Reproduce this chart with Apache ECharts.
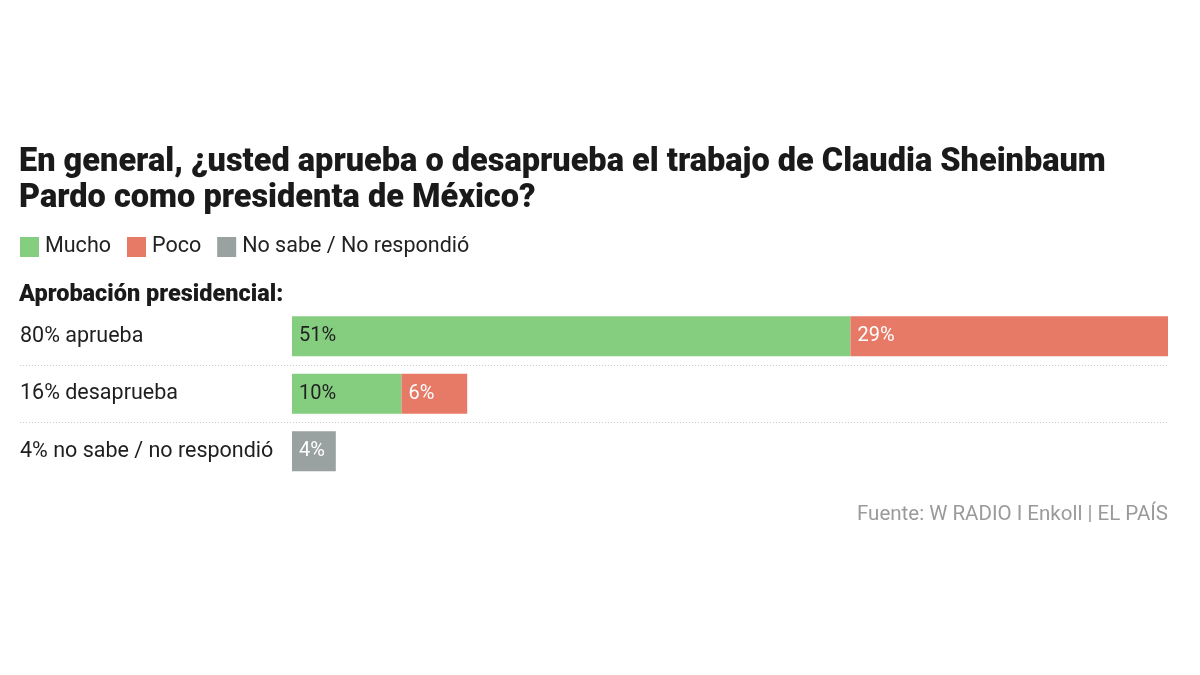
<!DOCTYPE html>
<html><head><meta charset="utf-8">
<script src="https://cdn.jsdelivr.net/npm/echarts@6/dist/echarts.min.js"></script>
<style>html,body{margin:0;padding:0;background:#fff}#c{width:1200px;height:675px}</style>
</head><body><div id="c"></div>
<script>
const titleText = 'En general, ¿usted aprueba o desaprueba el trabajo de Claudia Sheinbaum\nPardo como presidenta de México?';
const subTitle = 'Aprobación presidencial:';
const sourceText = 'Fuente: W RADIO I Enkoll | EL PAÍS';
const categories = ['80% aprueba', '16% desaprueba', '4% no sabe / no respondió'];
const seriesNames = ['Mucho', 'Poco', 'No sabe / No respondió'];
const mucho = [51, 10, null];
const poco = [29, 6, null];
const noSabe = [null, null, 4];
const colors = ['#85CE80', '#E77A66', '#99A1A1'];
const labelColors = ['#222222', '#ffffff', '#ffffff'];

const FONT = 'Roboto';
const chart = echarts.init(document.getElementById('c'));
const values = [mucho, poco, noSabe];
chart.setOption({
  animation: false,
  color: colors,
  title: [
    { text: titleText, left: 19, top: 145, padding: 0,
      textStyle: { fontFamily: FONT, fontSize: 32.5, fontWeight: 900, color: '#1a1a1a', lineHeight: 36 } },
    { text: subTitle, left: 19, top: 283, padding: 0,
      textStyle: { fontFamily: FONT, fontSize: 23.5, fontWeight: 900, color: '#1a1a1a' } },
    { text: sourceText, right: 32, top: 504, padding: 0,
      textStyle: { fontFamily: FONT, fontSize: 20.5, fontWeight: 400, color: '#9a9a9a' } }
  ],
  legend: {
    left: 20, top: 236, padding: 0, icon: 'rect', itemWidth: 19, itemHeight: 20, itemGap: 16,
    selectedMode: false,
    textStyle: { fontFamily: FONT, fontSize: 21.5, color: '#222', padding: [0, 0, 0, 1] },
    data: seriesNames
  },
  grid: [
    { left: 20, right: 32, top: 307.5, height: 172.5 },
    { left: 292, right: 32, top: 307.5, height: 172.5 }
  ],
  xAxis: [
    { gridIndex: 0, type: 'value', min: 0, max: 80, show: false },
    { gridIndex: 1, type: 'value', min: 0, max: 80, show: false }
  ],
  yAxis: [
    { gridIndex: 0, type: 'category', data: categories, inverse: true,
      axisLine: { show: false }, axisTick: { show: false },
      axisLabel: { inside: true, align: 'left', margin: 0,
        fontFamily: FONT, fontSize: 21.5, color: '#1e1e1e' },
      splitLine: { show: true, showMinLine: false, showMaxLine: false,
        lineStyle: { color: '#cccccc', type: [1, 2], width: 1 } } },
    { gridIndex: 1, type: 'category', data: categories, inverse: true, show: false }
  ],
  series: values.map((v, i) => ({
    name: seriesNames[i], type: 'bar', stack: 'total',
    xAxisIndex: 1, yAxisIndex: 1, data: v, barWidth: 40,
    itemStyle: { color: colors[i] },
    label: { show: true, position: 'insideLeft', distance: 7,
      formatter: '{c}%', fontFamily: FONT, fontSize: 20, color: labelColors[i] }
  }))
});
</script></body></html>
